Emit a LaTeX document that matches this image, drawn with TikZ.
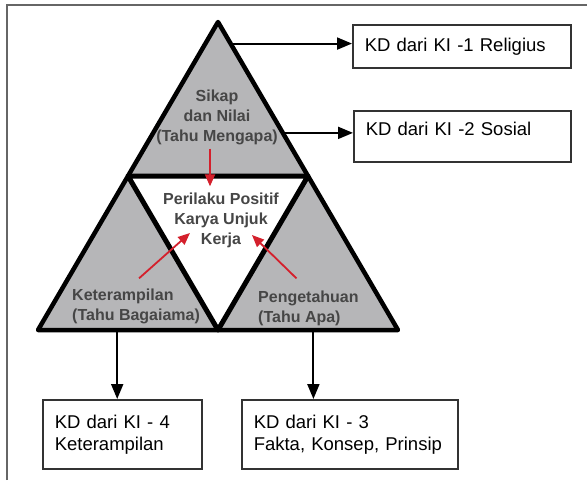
\documentclass[tikz,border=0pt]{standalone}
\usepackage{fontspec}
\setmainfont{Liberation Sans}
\usetikzlibrary{arrows.meta}
\usetikzlibrary{calc}
\definecolor{abu}{RGB}{182,182,184}
\definecolor{teksabu}{RGB}{70,70,70}
\definecolor{merah}{RGB}{212,32,44}
\tikzset{kotak/.style = {draw = black!80, line width = 1.5pt, anchor = north west, align = left, inner xsep = 12pt, font = \fontsize{18.5}{22}\selectfont}}
\tikzset{teks/.style = {text = teksabu, inner sep = 0pt, font = \fontsize{16}{20}\selectfont\bfseries}}
\tikzset{panah/.style = {line width = 2pt, -{Triangle[length = 15pt, width = 12pt]}}}
\tikzset{panahmerah/.style = {draw = merah, line width = 1.8pt, -{Triangle[length = 12pt, width = 10pt]}}}
\tikzset{sisi/.style = {line width = 4.5pt, line join = round}}

\begin{document}
\begin{tikzpicture}[x = 1pt, y = -1pt]
          \useasboundingbox (0, 0) rectangle (587, 480);
          \draw [line width = 1.5pt, black!60] (7, 480) -- (7, 5) -- (587, 5);

          \coordinate (top) at (218, 22);
          \coordinate (sw) at (38, 330);
          \coordinate (se) at (398, 330);
          \coordinate (w) at (128, 176);
          \coordinate (e) at (308, 176);
          \coordinate (bot) at (218, 330);

          \fill [abu] (top) -- (sw) -- (se) -- cycle;
          \fill [white] (w) -- (e) -- (bot) -- cycle;
          \draw [sisi] (top) -- (sw) -- (se) -- cycle;
          \draw [sisi, line width = 5pt] (w) -- (e) -- (bot) -- cycle;

          \node [teks, align = center] (sikap) at (217, 117) {Sikap\\dan Nilai\\(Tahu Mengapa)};
          \node [teks, align = center] (inti) at (221, 220) {Perilaku Positif\\Karya Unjuk\\Kerja};
          \node [teks, align = left, anchor = west] (terampil) at (72, 306) {Keterampilan\\(Tahu Bagaiama)};
          \node [teks, align = left, anchor = west] (tahu) at (258, 308) {Pengetahuan\\(Tahu Apa)};

          \draw [panahmerah] ([xshift = -7pt, yshift = -4pt]sikap.south) -- ([xshift = -11pt, yshift = 6pt]inti.north);
          \draw [panahmerah] ([xshift = 3pt, yshift = 10pt]terampil.north) -- ([xshift = 27pt, yshift = -13pt]inti.west);
          \draw [panahmerah] ([xshift = -12pt, yshift = 12pt]tahu.north) -- ([xshift = -27pt, yshift = -15pt]inti.east);

          \node [kotak, text width = 194pt, minimum height = 43pt] (ki1) at (352, 24) {KD dari KI -1 Religius};
          \node [kotak, text width = 193pt, text height = 13.6pt, text depth = 14.6pt, inner ysep = 11.4pt] (ki2) at (353, 110) {KD dari KI -2 Sosial};
          \node [kotak, text width = 135pt, minimum height = 69pt] (ki4) at (42, 399) {KD dari KI - 4\\Keterampilan};
          \node [kotak, text width = 192pt, minimum height = 69pt] (ki3) at (241, 399) {KD dari KI - 3\\Fakta, Konsep, Prinsip};

          \coordinate (a1) at ($(top)!0.07!(se)$);
          \coordinate (a2) at ($(top)!0.72!(e)$);
          \coordinate (a4) at ($(sw)!0.44!(bot)$);
          \coordinate (a3) at ($(bot)!0.53!(se)$);

          \draw [panah] (a1) -- (a1 -| ki1.west);
          \draw [panah] (a2) -- (a2 -| ki2.west);
          \draw [panah] (a4) -- (a4 |- ki4.north);
          \draw [panah] (a3) -- (a3 |- ki3.north);
        \end{tikzpicture}
\end{document}
